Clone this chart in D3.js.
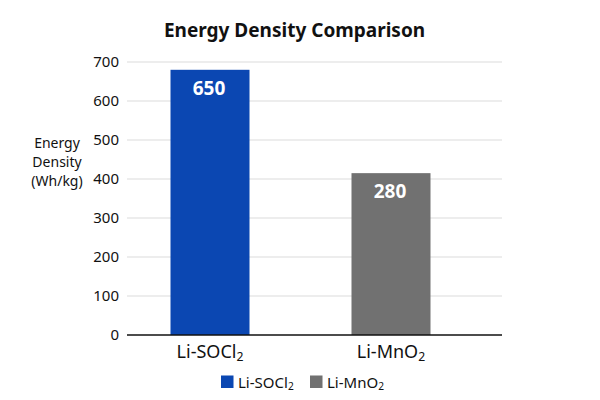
<!DOCTYPE html>
<html>
<head>
<meta charset="utf-8">
<script src="https://cdn.jsdelivr.net/npm/d3@7"></script>
<style>
  body { margin: 0; background: #fff; }
  svg { display: block; font-family: "Noto Sans", sans-serif; }
</style>
</head>
<body>
<div id="chart"></div>
<script>
// data
const categories = ["Li-SOCl2", "Li-MnO2"];
const barHeights = [680, 415];      // bar tops as drawn
const valueLabels = ["650", "280"]; // numbers printed on the bars
const yTicks = [0, 100, 200, 300, 400, 500, 600, 700];
const colors = ["#0b47b2", "#717171"];

const width = 600, height = 400;
const svg = d3.select("#chart").append("svg").attr("width", width).attr("height", height);

const x = d3.scaleBand().domain(categories).range([119.5, 481.5]).paddingInner(0.5635).paddingOuter(0.2818);
const y = d3.scaleLinear().domain([0, 700]).range([335, 62]);
const left = 127, right = 502;

// chemical names with subscript 2
const chem = (sel, name, size) => {
    const base = name.slice(0, -1);
    sel.append("tspan").text(base);
    sel.append("tspan").text("2").attr("font-size", size * 0.68).attr("dy", size * 0.14);
};

svg.append("text").attr("x", 294.5).attr("y", 37).attr("text-anchor", "middle")
    .attr("font-size", 19).attr("font-weight", "bold").attr("fill", "#111")
    .text("Energy Density Comparison");

// gridlines
svg.append("g").selectAll("line").data(yTicks.slice(1)).enter().append("line")
    .attr("x1", left).attr("x2", right)
    .attr("y1", d => y(d)).attr("y2", d => y(d))
    .attr("stroke", "#dcdcdc").attr("stroke-width", 1.2);

// y axis labels
const yAxis = svg.append("g").attr("transform", `translate(${left},0)`)
    .call(d3.axisLeft(y).tickValues(yTicks).tickSize(0).tickPadding(8));
yAxis.select(".domain").remove();
yAxis.selectAll("text").attr("font-size", 15).attr("fill", "#111").attr("font-family", "Noto Sans");

const yTitle = svg.append("text").attr("text-anchor", "middle").attr("font-size", 14).attr("fill", "#111");
["Energy", "Density", "(Wh/kg)"].forEach((t, i) => {
    yTitle.append("tspan").attr("x", 57).attr("y", 148 + i * 19).text(t);
});

// bars
svg.append("g").selectAll("rect").data(categories).enter().append("rect")
    .attr("x", d => x(d)).attr("width", x.bandwidth())
    .attr("y", (d, i) => y(barHeights[i]))
    .attr("height", (d, i) => y(0) - y(barHeights[i]))
    .attr("fill", (d, i) => colors[i]);

svg.append("g").selectAll("text").data(categories).enter().append("text")
    .attr("x", d => x(d) + x.bandwidth() / 2 - 1)
    .attr("y", (d, i) => y(barHeights[i]) + 25)
    .attr("text-anchor", "middle").attr("font-size", 19).attr("font-weight", "bold").attr("fill", "#fff")
    .text((d, i) => valueLabels[i]);

// x axis line
svg.append("line").attr("x1", left).attr("x2", right).attr("y1", y(0)).attr("y2", y(0))
    .attr("stroke", "#111").attr("stroke-width", 1.5);

svg.append("g").selectAll("text").data(categories).enter().append("text")
    .attr("x", d => x(d) + x.bandwidth() / 2).attr("y", 358)
    .attr("text-anchor", "middle").attr("font-size", 18).attr("fill", "#111")
    .each(function (d) { chem(d3.select(this), d, 18); });

// legend
const legendX = [221, 310];
const legend = svg.append("g").selectAll("g").data(categories).enter().append("g")
    .attr("transform", (d, i) => `translate(${legendX[i]},375.5)`);
legend.append("rect").attr("width", 12.5).attr("height", 12.5).attr("fill", (d, i) => colors[i]);
legend.append("text").attr("x", 17).attr("y", 12).attr("font-size", 15).attr("fill", "#111")
    .each(function (d) { chem(d3.select(this), d, 15); });
</script>
</body>
</html>
